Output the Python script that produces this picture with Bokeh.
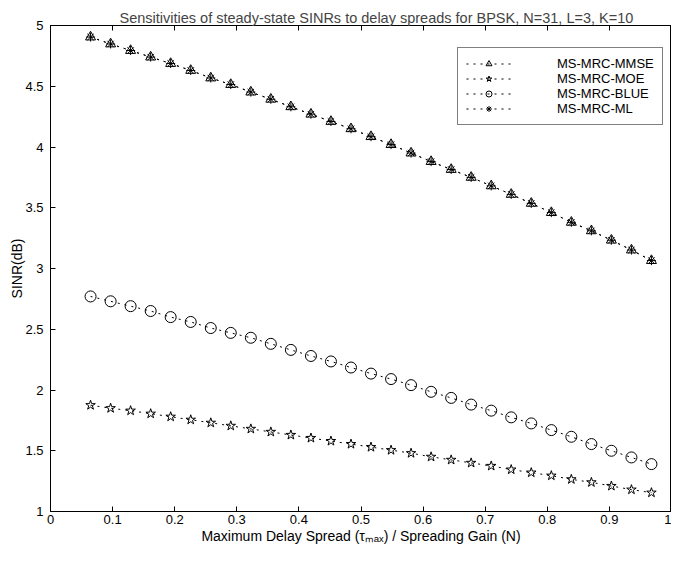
from bokeh.plotting import figure
from bokeh.models import LinearAxis, FixedTicker, Legend, LegendItem, Range1d
from bokeh.embed import file_html
from bokeh.resources import INLINE

# ---- data ----
x_ratio = [0.0645, 0.0968, 0.1290, 0.1613, 0.1935, 0.2258, 0.2581, 0.2903, 0.3226,
           0.3548, 0.3871, 0.4194, 0.4516, 0.4839, 0.5161, 0.5484, 0.5806, 0.6129,
           0.6452, 0.6774, 0.7097, 0.7419, 0.7742, 0.8065, 0.8387, 0.8710, 0.9032,
           0.9355, 0.9677]
sinr_mmse = [4.905, 4.848, 4.794, 4.74, 4.687, 4.63, 4.568, 4.514, 4.452, 4.393,
             4.331, 4.27, 4.21, 4.15, 4.085, 4.02, 3.95, 3.88, 3.815, 3.75, 3.68,
             3.61, 3.536, 3.46, 3.38, 3.31, 3.233, 3.152, 3.065]
sinr_moe = [1.875, 1.85, 1.83, 1.805, 1.78, 1.755, 1.73, 1.705, 1.68, 1.655, 1.63,
            1.605, 1.58, 1.555, 1.53, 1.505, 1.48, 1.45, 1.425, 1.40, 1.375, 1.345,
            1.32, 1.295, 1.265, 1.24, 1.21, 1.18, 1.155]
sinr_blue = [2.77, 2.73, 2.69, 2.65, 2.60, 2.56, 2.51, 2.47, 2.43, 2.38, 2.33, 2.28,
             2.235, 2.185, 2.135, 2.09, 2.04, 1.985, 1.935, 1.88, 1.83, 1.775, 1.725,
             1.67, 1.615, 1.555, 1.50, 1.445, 1.39]
sinr_ml = [4.905, 4.848, 4.794, 4.74, 4.687, 4.63, 4.568, 4.514, 4.452, 4.393,
           4.331, 4.27, 4.21, 4.15, 4.085, 4.02, 3.95, 3.88, 3.815, 3.75, 3.68,
           3.61, 3.536, 3.46, 3.38, 3.31, 3.233, 3.152, 3.065]

x_ticks = [0, 0.1, 0.2, 0.3, 0.4, 0.5, 0.6, 0.7, 0.8, 0.9, 1]
x_tick_labels = ["0", "0.1", "0.2", "0.3", "0.4", "0.5", "0.6", "0.7", "0.8", "0.9", "1"]
y_ticks = [1, 1.5, 2, 2.5, 3, 3.5, 4, 4.5, 5]
y_tick_labels = ["1", "1.5", "2", "2.5", "3", "3.5", "4", "4.5", "5"]

FONT = "Liberation Sans"

p = figure(width=671, height=546, output_backend="svg", toolbar_location=None,
           x_range=Range1d(0, 1), y_range=Range1d(1, 5),
           title="Sensitivities of steady-state SINRs to delay spreads for BPSK, N=31, L=3, K=10",
           min_border_left=50, min_border_right=0, min_border_top=25, min_border_bottom=31)

p.title.text_font = FONT
p.title.text_font_size = "14.5px"
p.title.text_font_style = "normal"
p.title.align = "left"
p.title.standoff = 0
p.title.offset = 69

p.xgrid.visible = False
p.ygrid.visible = False
p.outline_line_color = "black"
p.outline_line_width = 1
p.background_fill_color = "white"
p.border_fill_color = "white"

def style_axis(ax, ticks, labels, show_labels=True):
    ax.ticker = FixedTicker(ticks=ticks)
    ax.major_label_overrides = {t: l for t, l in zip(ticks, labels)}
    ax.major_tick_in = 5
    ax.major_tick_out = 0
    ax.minor_tick_in = 0
    ax.minor_tick_out = 0
    ax.axis_line_color = "black"
    ax.major_tick_line_color = "black"
    ax.major_label_text_font = FONT
    ax.major_label_text_font_size = "13px"
    ax.major_label_text_color = "black"
    ax.axis_label_text_font = FONT
    ax.axis_label_text_font_size = "14px"
    ax.axis_label_text_font_style = "normal"
    ax.axis_label_text_color = "black"
    if not show_labels:
        ax.major_label_text_font_size = "1px"
        ax.major_label_text_color = None
        ax.major_label_standoff = 0

style_axis(p.xaxis[0], x_ticks, x_tick_labels)
style_axis(p.yaxis[0], y_ticks, y_tick_labels)
p.xaxis[0].axis_label = "Maximum Delay Spread (\u03c4\u2098\u2090\u2093) / Spreading Gain (N)"
p.xaxis[0].major_label_standoff = 3
p.xaxis[0].axis_label_standoff = 1
p.yaxis[0].axis_label = "SINR(dB)"
p.yaxis[0].major_label_standoff = 7
p.yaxis[0].axis_label_standoff = -3

top_axis = LinearAxis()
style_axis(top_axis, x_ticks, x_tick_labels, show_labels=False)
p.add_layout(top_axis, "above")

DASH = "2 5"

l1 = p.line(x_ratio, sinr_mmse, line_color="black", line_dash=DASH, line_width=1)
s1 = p.scatter(x_ratio, sinr_mmse, marker="triangle", size=10, fill_color=None,
               line_color="black", line_width=1)
l2 = p.line(x_ratio, sinr_moe, line_color="black", line_dash=DASH, line_width=1)
s2 = p.scatter(x_ratio, sinr_moe, marker="star", size=10, fill_color=None,
               line_color="black", line_width=1)
l3 = p.line(x_ratio, sinr_blue, line_color="black", line_dash=DASH, line_width=1)
s3 = p.scatter(x_ratio, sinr_blue, marker="circle", size=11, fill_color=None,
               line_color="black", line_width=1)
l4 = p.line(x_ratio, sinr_ml, line_color="black", line_dash=DASH, line_width=1)
s4 = p.scatter(x_ratio, sinr_ml, marker="asterisk", size=9, fill_color=None,
               line_color="black", line_width=1)

legend = Legend(items=[
    LegendItem(label="MS-MRC-MMSE", renderers=[l1, s1]),
    LegendItem(label="MS-MRC-MOE", renderers=[l2, s2]),
    LegendItem(label="MS-MRC-BLUE", renderers=[l3, s3]),
    LegendItem(label="MS-MRC-ML", renderers=[l4, s4]),
], location=(407, 386))
legend.label_text_font = FONT
legend.label_text_font_size = "13px"
legend.label_text_color = "black"
legend.glyph_width = 45
legend.glyph_height = 15
legend.label_height = 15
legend.label_standoff = 46
legend.spacing = 0
legend.padding = 8
legend.margin = 0
legend.border_line_color = "black"
legend.border_line_width = 1
legend.background_fill_color = "white"
legend.background_fill_alpha = 1
p.add_layout(legend, "center")

open("out.html", "w").write(file_html(p, INLINE))
